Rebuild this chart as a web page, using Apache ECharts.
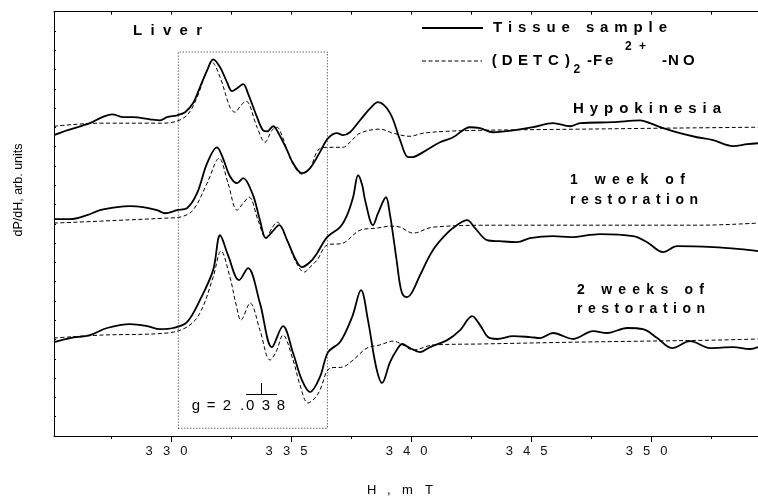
<!DOCTYPE html>
<html>
<head>
<meta charset="utf-8">
<script src="https://cdn.jsdelivr.net/npm/echarts@6/dist/echarts.min.js"></script>
<style>html,body{margin:0;padding:0;background:#fff;}#c{width:758px;height:497px;}</style>
</head>
<body>
<div id="c"></div>
<script>
// ---- data (x: H in mT, y: dP/dH in arbitrary units) ----
const hypoSolid = [[325.1,15.6],[325.64,15.85],[326.6,16.22],[327.02,16.48],[327.52,16.68],[328.0,16.53],[328.39,16.53],[329.1,16.42],[329.52,16.37],[329.81,16.53],[330.23,16.63],[330.56,16.79],[330.89,17.25],[331.18,18.08],[331.48,18.96],[331.73,19.53],[332.02,19.12],[332.31,18.34],[332.52,17.88],[332.73,18.03],[332.98,18.24],[333.18,17.77],[333.56,16.53],[333.81,15.85],[333.98,15.8],[334.23,16.06],[334.43,15.75],[334.81,14.82],[335.06,14.15],[335.43,13.63],[335.77,13.89],[336.18,14.72],[336.52,15.44],[336.89,15.7],[337.14,15.6],[337.43,15.75],[337.85,16.37],[338.27,16.99],[338.6,17.31],[339.1,16.74],[339.52,15.34],[339.85,14.46],[340.02,14.46],[340.48,14.72],[341.18,15.23],[341.73,15.49],[342.43,16.01],[342.85,15.96],[343.39,15.75],[344.23,15.85],[345.06,16.01],[345.89,16.22],[346.6,16.06],[347.02,16.22],[348.39,16.27],[349.52,16.37],[349.93,16.22],[350.48,15.96],[351.18,15.7],[351.89,15.49],[352.56,15.34],[353.39,15.03],[353.98,15.13],[354.43,15.18]];
const hypoDashed = [[325.1,16.06],[327.02,16.22],[329.52,16.22],[330.06,16.27],[330.64,16.63],[331.06,17.56],[331.39,18.7],[331.68,19.38],[332.02,18.6],[332.43,17.05],[332.64,16.79],[332.89,17.15],[333.1,17.36],[333.56,16.01],[333.89,15.23],[334.18,15.85],[334.39,16.01],[334.56,15.7],[334.81,14.82],[335.06,14.09],[335.43,13.58],[335.77,13.89],[336.1,14.82],[336.48,14.97],[337.14,14.97],[337.43,15.23],[337.85,15.7],[338.68,15.91],[339.23,15.7],[339.93,15.54],[340.48,15.7],[341.48,15.8],[342.85,15.85],[347.02,15.91],[350.48,15.96],[354.43,16.01]];
const week1Solid = [[325.1,11.24],[325.77,11.24],[326.48,11.45],[327.02,11.71],[327.73,11.87],[328.27,11.92],[328.81,11.87],[329.39,11.71],[329.73,11.55],[330.23,11.71],[330.64,11.81],[331.06,12.59],[331.48,14.15],[331.89,14.97],[332.14,14.4],[332.43,13.47],[332.73,13.11],[332.98,13.37],[333.39,12.49],[333.68,11.19],[333.93,10.26],[334.18,10.57],[334.48,10.93],[334.81,10.16],[335.14,9.22],[335.43,8.76],[335.77,9.02],[336.06,9.48],[336.48,10.31],[337.02,10.83],[337.31,11.45],[337.56,12.38],[337.77,13.52],[337.94,13.01],[338.06,12.23],[338.39,10.93],[338.6,11.55],[338.93,12.38],[339.1,11.45],[339.18,10.83],[339.39,8.96],[339.52,7.82],[339.64,7.31],[339.81,7.2],[340.02,7.46],[340.35,8.34],[340.89,9.64],[341.48,10.52],[342.02,11.04],[342.31,11.19],[342.64,10.78],[343.14,10.16],[343.68,10.1],[344.39,10.05],[344.93,10.26],[345.89,10.36],[346.6,10.31],[347.85,10.47],[349.23,10.36],[349.81,10.05],[350.48,9.53],[351.06,9.84],[352.56,9.79],[353.68,9.69],[354.43,9.59]];
const week1Dashed = [[325.1,11.04],[327.02,11.14],[329.81,11.3],[330.35,11.35],[330.89,11.71],[331.48,13.11],[331.98,14.4],[332.35,13.11],[332.73,11.71],[332.98,12.07],[333.23,12.38],[333.6,11.19],[333.93,10.26],[334.18,10.78],[334.39,11.09],[334.81,10.16],[335.18,9.02],[335.52,8.5],[335.81,8.81],[336.06,9.12],[336.48,9.9],[337.14,10.0],[337.85,10.67],[338.56,10.78],[339.1,10.88],[339.52,10.83],[340.06,10.52],[340.89,10.83],[343.68,10.93],[352.02,10.93],[354.43,11.04]];
const week2Solid = [[325.1,4.87],[325.77,5.08],[326.6,5.23],[327.31,5.6],[328.27,5.8],[328.98,5.7],[329.52,5.54],[330.06,5.6],[330.64,5.91],[331.18,7.05],[331.73,8.6],[332.02,10.41],[332.35,9.38],[332.81,8.08],[333.18,8.7],[333.68,6.89],[334.18,4.61],[334.64,5.7],[335.06,4.3],[335.43,2.9],[335.77,2.28],[336.18,3.06],[336.52,4.35],[337.02,4.87],[337.52,6.17],[337.89,7.56],[338.18,6.01],[338.52,3.58],[338.77,2.75],[339.1,3.83],[339.43,4.56],[339.6,4.77],[339.93,4.56],[340.35,4.35],[340.77,4.61],[341.48,4.97],[342.02,5.49],[342.52,6.22],[342.85,5.75],[343.18,5.13],[343.56,5.03],[344.23,5.18],[344.93,5.13],[345.35,5.08],[345.89,5.34],[346.73,5.03],[347.56,5.44],[348.14,5.34],[348.98,5.6],[349.64,5.54],[350.23,5.08],[350.85,4.56],[351.6,4.92],[352.43,4.56],[353.39,4.61],[354.1,4.51],[354.43,4.61]];
const week2Dashed = [[325.1,5.08],[327.02,5.23],[329.81,5.34],[330.64,5.65],[331.18,6.37],[331.73,8.24],[332.06,9.59],[332.43,8.24],[332.69,6.79],[332.89,6.01],[333.27,6.89],[333.68,5.49],[334.1,3.94],[334.35,4.35],[334.64,5.23],[335.06,3.94],[335.35,2.64],[335.68,1.71],[335.98,1.97],[336.18,2.38],[336.6,3.52],[337.14,3.58],[337.56,3.94],[338.14,4.56],[338.68,4.72],[339.23,4.92],[339.64,4.72],[340.06,4.46],[340.89,4.72],[342.85,4.77],[347.02,4.87],[352.56,4.97],[354.43,5.03]];

const majorTicks = [330, 335, 340, 345, 350];
const minorTicks = [327.5, 332.5, 337.5, 342.5, 347.5, 352.5];
const allTicks = [327.5, 330, 332.5, 335, 337.5, 340, 342.5, 345, 347.5, 350, 352.5];
// annotation: dotted window and g-factor marker
const windowX = [330.28, 336.49];
const windowY = [0.4, 19.91];
const gMarkX = 333.73;
const gBarX = [333.1, 334.39];
const gBarY = [2.18, 2.75];

const X_MIN = 325.1, X_MAX = 354.43;
const FONT = '"Liberation Sans", Arial, sans-serif';

const chart = echarts.init(document.getElementById('c'), null, {renderer: 'canvas'});
const mctx = document.createElement('canvas').getContext('2d');

function spaced(str, left, cy, font, width) {
  mctx.font = font;
  const chars = Array.from(str);
  const ws = chars.map(c => mctx.measureText(c).width);
  const sum = ws.reduce((a, b) => a + b, 0);
  const gap = chars.length > 1 ? (width - sum) / (chars.length - 1) : 0;
  let x = left;
  const out = [];
  chars.forEach((c, i) => {
    if (c !== ' ') out.push(txt(c, x, cy, font));
    x += ws[i] + gap;
  });
  return out;
}
function txt(t, x, y, font) {
  return {type: 'text', x: x, y: y, silent: true, z: 100,
    style: {text: t, font: font, fill: '#000', textAlign: 'left', textVerticalAlign: 'middle', verticalAlign: 'middle'}};
}

const B15 = 'bold 15px ' + FONT;
const B14 = 'bold 14px ' + FONT;
const B11 = 'bold 12px ' + FONT;
const N15 = '15px ' + FONT;
const N13 = '13px ' + FONT;

let graphics = [];
graphics = graphics.concat(spaced('Liver', 133, 31, B15, 69));
graphics = graphics.concat(spaced('Tissue sample', 493, 28, B15, 174));
// (DETC)2-Fe2+-NO
[['(', 491.7], ['D', 501.7], ['E', 518], ['T', 533], ['C', 548], [')', 565], ['-', 587], ['F', 593], ['e', 605], ['-', 662], ['N', 668], ['O', 683]]
  .forEach(p => graphics.push(txt(p[0], p[1], 61, B15)));
graphics.push(txt('2', 573.5, 70, B11));
graphics.push(txt('2', 625, 47, B11));
graphics.push(txt('+', 639, 47, B11));
graphics = graphics.concat(spaced('Hypokinesia', 573, 109, B15, 148));
graphics = graphics.concat(spaced('1 week of', 570, 180, B14, 115));
graphics = graphics.concat(spaced('restoration', 570, 200, B14, 128));
graphics = graphics.concat(spaced('2 weeks of', 577, 290, B14, 127));
graphics = graphics.concat(spaced('restoration', 577, 309, B14, 128));
// g = 2.038
[['g', 191.7], ['=', 206.7], ['2', 222.7], ['.', 240], ['0', 246], ['3', 261.7], ['8', 276.7]]
  .forEach(p => graphics.push(txt(p[0], p[1], 406, N15)));
// axis names
[['H', 367], [',', 387], ['m', 402], ['T', 425]].forEach(p => graphics.push(txt(p[0], p[1], 490, N13)));
graphics.push({type: 'text', x: 19, y: 190, rotation: Math.PI / 2, silent: true,
  style: {text: 'dP/dH, arb. units', font: '12.5px ' + FONT, fill: '#000', textAlign: 'center', align: 'center', textVerticalAlign: 'middle', verticalAlign: 'middle'}});
// legend samples
graphics.push({type: 'line', silent: true, shape: {x1: 422, y1: 28, x2: 483, y2: 28}, style: {stroke: '#000', lineWidth: 1.8}});
graphics.push({type: 'line', silent: true, shape: {x1: 422, y1: 61, x2: 482, y2: 61}, style: {stroke: '#000', lineWidth: 1, lineDash: [4, 2.5]}});

const solidStyle = {color: '#000', width: 1.8};
const dashStyle = {color: '#000', width: 1, type: [4, 2.5]};
function ser(name, data, ls) {
  return {name: name, type: 'line', data: data, showSymbol: false, symbol: 'none', smooth: 0.35,
    lineStyle: ls, itemStyle: {color: '#000'}, silent: true, animation: false, z: 3};
}

const series = [
  ser('Tissue sample', hypoSolid, solidStyle),
  ser('(DETC)2-Fe2+-NO', hypoDashed, dashStyle),
  ser('Tissue sample', week1Solid, solidStyle),
  ser('(DETC)2-Fe2+-NO', week1Dashed, dashStyle),
  ser('Tissue sample', week2Solid, solidStyle),
  ser('(DETC)2-Fe2+-NO', week2Dashed, dashStyle),
  {type: 'line', data: [], silent: true, animation: false,
    markArea: {silent: true, itemStyle: {color: 'rgba(0,0,0,0)', borderColor: '#222', borderWidth: 1, borderType: [1, 2]},
      data: [[{coord: [windowX[0], windowY[0]]}, {coord: [windowX[1], windowY[1]]}]]},
    markLine: {silent: true, symbol: 'none', label: {show: false}, animation: false,
      lineStyle: {color: '#000', width: 1, type: 'solid'},
      data: [
        [{coord: [gBarX[0], gBarY[0]]}, {coord: [gBarX[1], gBarY[0]]}],
        [{coord: [gMarkX, gBarY[0]]}, {coord: [gMarkX, gBarY[1]]}]
      ]}}
];

const axisLine = {show: true, onZero: false, lineStyle: {color: '#000', width: 1}};
const option = {
  animation: false,
  backgroundColor: '#fff',
  grid: {left: 54, right: 0, top: 11.7, bottom: 61, containLabel: false},
  xAxis: [
    {type: 'value', position: 'bottom', min: X_MIN, max: X_MAX, axisLine: axisLine,
      axisTick: {show: true, inside: false, length: 6, customValues: majorTicks, lineStyle: {color: '#000'}},
      axisLabel: {show: true, customValues: majorTicks, margin: 9, color: '#111', fontFamily: FONT, fontSize: 13,
        formatter: v => String(Math.round(v)).split('').join('\u2002 ') + '\u2002 '},
      splitLine: {show: false}},
    {type: 'value', position: 'bottom', min: X_MIN, max: X_MAX, axisLine: {show: false},
      axisTick: {show: true, inside: false, length: 3, customValues: minorTicks, lineStyle: {color: '#000'}},
      axisLabel: {show: false}, splitLine: {show: false}},
    {type: 'value', position: 'top', min: X_MIN, max: X_MAX, axisLine: axisLine,
      axisTick: {show: true, inside: true, length: 3, customValues: allTicks, lineStyle: {color: '#000'}},
      axisLabel: {show: false}, splitLine: {show: false}}
  ],
  yAxis: [
    {type: 'value', min: 0, max: 22, interval: 1, position: 'left', axisLine: axisLine,
      axisTick: {show: true, inside: true, length: 2, lineStyle: {color: '#000'}},
      axisLabel: {show: false}, splitLine: {show: false}}
  ],
  series: series,
  graphic: graphics
};
chart.setOption(option);
</script>
</body>
</html>
